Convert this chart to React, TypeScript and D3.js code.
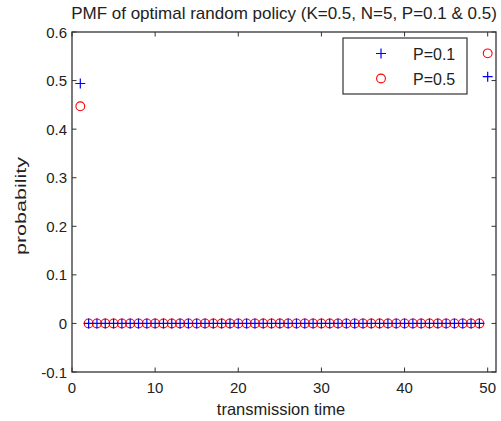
import React from 'react';
import * as d3 from 'd3';

// transmission times 1..50
const times = [1, 2, 3, 4, 5, 6, 7, 8, 9, 10, 11, 12, 13, 14, 15, 16, 17, 18, 19, 20,
  21, 22, 23, 24, 25, 26, 27, 28, 29, 30, 31, 32, 33, 34, 35, 36, 37, 38, 39, 40,
  41, 42, 43, 44, 45, 46, 47, 48, 49, 50];

// P=0.1 (blue +)
const pmfP01 = [0.494, 0, 0, 0, 0, 0, 0, 0, 0, 0, 0, 0, 0, 0, 0, 0, 0, 0, 0, 0,
  0, 0, 0, 0, 0, 0, 0, 0, 0, 0, 0, 0, 0, 0, 0, 0, 0, 0, 0, 0,
  0, 0, 0, 0, 0, 0, 0, 0, 0, 0.508];

// P=0.5 (red o)
const pmfP05 = [0.447, 0, 0, 0, 0, 0, 0, 0, 0, 0, 0, 0, 0, 0, 0, 0, 0, 0, 0, 0,
  0, 0, 0, 0, 0, 0, 0, 0, 0, 0, 0, 0, 0, 0, 0, 0, 0, 0, 0, 0,
  0, 0, 0, 0, 0, 0, 0, 0, 0, 0.556];

const xTicks = [0, 10, 20, 30, 40, 50];
const yTicks = [-0.1, 0, 0.1, 0.2, 0.3, 0.4, 0.5, 0.6];
const legendLabels = ['P=0.1', 'P=0.5'];

const W = 501;
const H = 421;
const margin = { top: 32, right: 5, bottom: 49, left: 72 };
const font = '"Liberation Sans", Arial, Helvetica, sans-serif';
const axisColor = '#333';

export default function App() {
  const x = d3.scaleLinear().domain([0, 51]).range([margin.left, W - margin.right]);
  const y = d3.scaleLinear().domain([-0.1, 0.6]).range([H - margin.bottom, margin.top]);
  const [x0, x1] = x.range();
  const [y0, y1] = y.range();
  const tick = 4.5;
  const fmt = (v: number) => (Math.abs(v) < 1e-9 ? '0' : d3.format('.1f')(v)).replace('−', '-');

  const plus = (cx: number, cy: number, key: string) => (
    <path key={key} d={`M${cx - 5},${cy}H${cx + 5}M${cx},${cy - 5}V${cy + 5}`} stroke="#0000ff" strokeWidth={1.2} fill="none" />
  );
  const circle = (cx: number, cy: number, key: string) => (
    <circle key={key} cx={cx} cy={cy} r={4.4} stroke="#ff0000" strokeWidth={1.1} fill="none" />
  );

  return (
    <svg width={W} height={H} style={{ position: 'absolute', left: 0, top: 0, background: '#fff' }}>
      <rect x={0} y={0} width={W} height={H} fill="#fff" />
      <text x={(x0 + x1) / 2} y={19} textAnchor="middle" fontFamily={font} fontSize={17} fill="#222">
        PMF of optimal random policy (K=0.5, N=5, P=0.1 &amp; 0.5)
      </text>

      {/* data */}
      <g>
        {times.map((t, i) => circle(x(t), y(pmfP05[i]), 'c' + i))}
        {times.map((t, i) => plus(x(t), y(pmfP01[i]), 'p' + i))}
      </g>

      {/* axes box */}
      <rect x={x0} y={y1} width={x1 - x0} height={y0 - y1} fill="none" stroke={axisColor} strokeWidth={1.3} />
      {xTicks.map(t => (
        <g key={'xt' + t}>
          <line x1={x(t)} x2={x(t)} y1={y0} y2={y0 - tick} stroke={axisColor} />
          <line x1={x(t)} x2={x(t)} y1={y1} y2={y1 + tick} stroke={axisColor} />
          <text x={x(t)} y={y0 + 21} textAnchor="middle" fontFamily={font} fontSize={15} fill="#222">{t}</text>
        </g>
      ))}
      {yTicks.map(t => (
        <g key={'yt' + t}>
          <line x1={x0} x2={x0 + tick} y1={y(t)} y2={y(t)} stroke={axisColor} />
          <line x1={x1} x2={x1 - tick} y1={y(t)} y2={y(t)} stroke={axisColor} />
          <text x={x0 - 5} y={y(t) + 5.5} textAnchor="end" fontFamily={font} fontSize={15} fill="#222">{fmt(t)}</text>
        </g>
      ))}

      <text x={(x0 + x1) / 2 - 3} y={415} textAnchor="middle" fontFamily={font} fontSize={16.5} fill="#222">
        transmission time
      </text>
      <text transform={`translate(26,${(y0 + y1) / 2 + 4}) rotate(-90)`} textAnchor="middle" fontFamily={font}
        fontSize={15} textLength={98} lengthAdjust="spacingAndGlyphs" fill="#222">
        probability
      </text>

      {/* legend */}
      <g>
        <rect x={343} y={38} width={124} height={56} fill="#fff" stroke={axisColor} strokeWidth={1.2} />
        {plus(381, 53.5, 'lp')}
        {circle(381, 78.5, 'lc')}
        {legendLabels.map((l, i) => (
          <text key={l} x={413} y={60 + i * 25} fontFamily={font} fontSize={16} fill="#222">{l}</text>
        ))}
      </g>
    </svg>
  );
}
